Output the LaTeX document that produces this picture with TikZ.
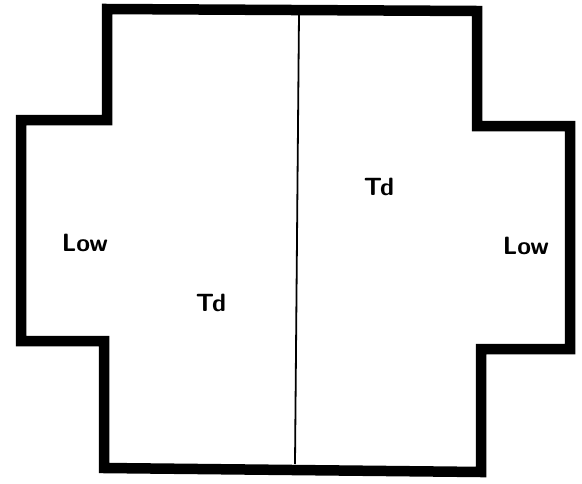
\documentclass[tikz,border=0pt]{standalone}
\usepackage{tikz}
\usetikzlibrary{calc}

\begin{document}
\begin{tikzpicture}[x=1pt, y=-1pt,
    wall/.style={line width=10.5pt, line join=miter, black},
    split/.style={line width=1.8pt, black},
    zone/.style={font=\sffamily\bfseries\fontsize{25}{27}\selectfont, inner sep=0pt}]
    \useasboundingbox (0,0) rectangle (582,483);

    % Outer wall of the plan
    \draw[wall] (107,9) -- (477,11) -- (477,126) -- (570,126) -- (570,349)
        -- (481,349) -- (481,472) -- (104,468) -- (104,341) -- (21,341)
        -- (21,120) -- (107,120) -- cycle;

    % Dividing line
    \coordinate (divtop) at (299,14);
    \coordinate (divbot) at (295,464);
    \draw[split] (divtop) -- (divbot);

    % Zone labels
    \node[zone] (lowleft) at (85,243) {Low};
    \node[zone] (tdleft) at (211,303) {Td};
    \node[zone] (tdright) at (379,187) {Td};
    \node[zone] (lowright) at (526,246) {Low};
\end{tikzpicture}
\end{document}
